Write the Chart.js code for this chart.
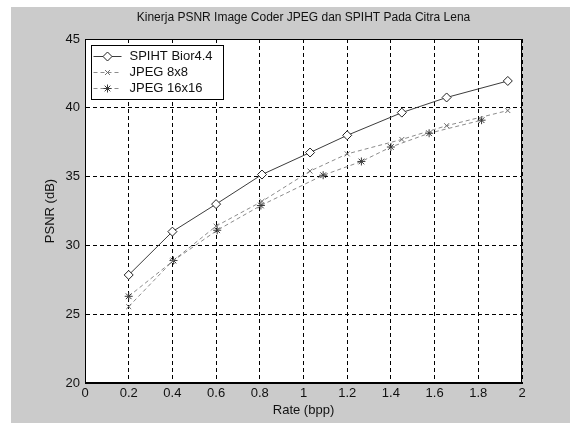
<!DOCTYPE html>
<html>
<head>
<meta charset="utf-8">
<script src="https://cdn.jsdelivr.net/npm/chart.js@4/dist/chart.umd.min.js"></script>
<style>
    html, body { margin: 0; padding: 0; background: #fff; }
    #wrap { position: absolute; left: 11px; top: 7px; width: 559px; height: 416px; }
</style>
</head>
<body>
<div id="wrap"><canvas id="psnrChart" width="559" height="416"></canvas></div>
<script>
// Data (rate in bpp, PSNR in dB)
const spihtRate  = [0.2, 0.4, 0.6, 0.81, 1.03, 1.2, 1.45, 1.655, 1.935];
const spihtPsnr  = [27.85, 31.0, 33.0, 35.15, 36.75, 38.0, 39.65, 40.75, 41.95];
const jpeg8Rate  = [0.2, 0.4, 0.6, 0.81, 1.03, 1.2, 1.45, 1.655, 1.935];
const jpeg8Psnr  = [25.55, 28.85, 31.4, 33.2, 35.4, 36.65, 37.7, 38.7, 39.8];
const jpeg16Rate = [0.2, 0.405, 0.605, 0.805, 1.09, 1.265, 1.4, 1.575, 1.815];
const jpeg16Psnr = [26.3, 28.9, 31.1, 32.9, 35.1, 36.1, 37.15, 38.15, 39.1];

const seriesLabels = ['SPIHT Bior4.4', 'JPEG 8x8', 'JPEG 16x16'];
const chartTitle = 'Kinerja PSNR Image Coder JPEG dan SPIHT Pada Citra Lena';
const xTitle = 'Rate (bpp)';
const yTitle = 'PSNR (dB)';

const FONT = "'Liberation Sans', Arial, sans-serif";

// juntar x e y em pontos
function toPoints(xs, ys) {
    return xs.map((x, i) => ({ x: x, y: ys[i] }));
}

// rotulos sem zeros desnecessarios (1 e 2 em vez de 1.0 e 2.0)
function tickText(v) {
    return String(Math.round(v * 10) / 10);
}

// fundo cinza da figura e area branca dos eixos
const bgPlugin = {
    id: 'bg',
    beforeDraw(chart) {
        const ctx = chart.ctx, a = chart.chartArea;
        ctx.save();
        ctx.fillStyle = '#cbcbcb';
        ctx.fillRect(0, 0, chart.width, chart.height);
        ctx.fillStyle = '#ffffff';
        ctx.fillRect(a.left, a.top, a.right - a.left, a.bottom - a.top);
        ctx.restore();
    },
    beforeDatasetsDraw(chart) {
        // caixa completa em volta dos eixos
        const ctx = chart.ctx, a = chart.chartArea;
        ctx.save();
        ctx.strokeStyle = '#000';
        ctx.lineWidth = 1;
        ctx.strokeRect(Math.round(a.left) + 0.5, Math.round(a.top) + 0.5,
            Math.round(a.right - a.left) - 1, Math.round(a.bottom - a.top) - 1);
        ctx.restore();
    }
};

// legenda no estilo MATLAB (linha + marcador), dentro do grafico
const boxLegend = {
    id: 'boxLegend',
    afterDraw(chart) {
        const ctx = chart.ctx, a = chart.chartArea;
        const x0 = Math.round(a.left) + 6.5, y0 = Math.round(a.top) + 6.5;
        const w = 132, h = 54;
        ctx.save();
        ctx.fillStyle = '#fff';
        ctx.fillRect(x0, y0, w, h);
        ctx.strokeStyle = '#000';
        ctx.lineWidth = 1;
        ctx.strokeRect(x0, y0, w, h);
        ctx.font = '13px ' + FONT;
        ctx.textBaseline = 'middle';
        chart.data.datasets.forEach((ds, i) => {
            const y = Math.round(y0 + 10 + i * 16.3) + 0.5;
            ctx.strokeStyle = ds.borderColor;
            ctx.setLineDash(ds.borderDash || []);
            ctx.beginPath();
            ctx.moveTo(x0 + 2, y);
            ctx.lineTo(x0 + 30, y);
            ctx.stroke();
            ctx.setLineDash([]);
            ctx.strokeStyle = ds.pointBorderColor;
            ctx.fillStyle = ds.pointBackgroundColor;
            ctx.lineWidth = 1;
            Chart.helpers.drawPoint(ctx, {
                pointStyle: ds.pointStyle, radius: ds.pointRadius, rotation: 0, borderWidth: 1
            }, x0 + 16, y);
            ctx.fillStyle = '#111';
            ctx.fillText(ds.label, x0 + 38, y);
        });
        ctx.restore();
    }
};

const ctx = document.getElementById('psnrChart').getContext('2d');
new Chart(ctx, {
    type: 'line',
    data: {
        datasets: [{
            label: seriesLabels[0],
            data: toPoints(spihtRate, spihtPsnr),
            borderColor: '#3c3c3c',
            borderWidth: 1,
            pointStyle: 'rectRot',
            pointRadius: 4.5,
            pointBorderColor: '#222',
            pointBackgroundColor: '#fff',
            pointBorderWidth: 1
        }, {
            label: seriesLabels[1],
            data: toPoints(jpeg8Rate, jpeg8Psnr),
            borderColor: '#8c8c8c',
            borderWidth: 1,
            borderDash: [4, 3],
            pointStyle: 'crossRot',
            pointRadius: 3.5,
            pointBorderColor: '#6e6e6e',
            pointBackgroundColor: '#6e6e6e',
            pointBorderWidth: 1
        }, {
            label: seriesLabels[2],
            data: toPoints(jpeg16Rate, jpeg16Psnr),
            borderColor: '#8c8c8c',
            borderWidth: 1,
            borderDash: [4, 3],
            pointStyle: 'star',
            pointRadius: 4,
            pointBorderColor: '#3a3a3a',
            pointBackgroundColor: '#3a3a3a',
            pointBorderWidth: 1
        }]
    },
    options: {
        responsive: false,
        animation: false,
        layout: { padding: { left: 0, right: 48, top: 0, bottom: 0 } },
        scales: {
            x: {
                type: 'linear',
                min: 0,
                max: 2,
                afterFit(scale) { scale.height = 40; },
                ticks: { stepSize: 0.2, color: '#111', padding: 3, maxRotation: 0,
                         callback: tickText, font: { family: FONT, size: 13 } },
                grid: { color: '#000', drawTicks: false },
                border: { display: true, color: '#000', width: 1, dash: [4, 3] },
                title: { display: true, text: xTitle, color: '#111',
                         font: { family: FONT, size: 13 }, padding: { top: 0, bottom: 5 } }
            },
            y: {
                min: 20,
                max: 45,
                afterFit(scale) { scale.width = 74; },
                ticks: { stepSize: 5, color: '#111', padding: 5,
                         callback: tickText, font: { family: FONT, size: 13 } },
                grid: { color: '#000', drawTicks: false },
                border: { display: true, color: '#000', width: 1, dash: [4, 3] },
                title: { display: true, text: yTitle, color: '#111',
                         font: { family: FONT, size: 13 }, padding: { top: 32, bottom: 32 } }
            }
        },
        plugins: {
            legend: { display: false },
            tooltip: { enabled: false },
            title: {
                display: true,
                fullSize: false,
                text: chartTitle,
                color: '#111',
                font: { family: FONT, size: 12, weight: 'normal' },
                padding: { top: 3, bottom: 14.6 }
            }
        }
    },
    plugins: [bgPlugin, boxLegend]
});
</script>
</body>
</html>
